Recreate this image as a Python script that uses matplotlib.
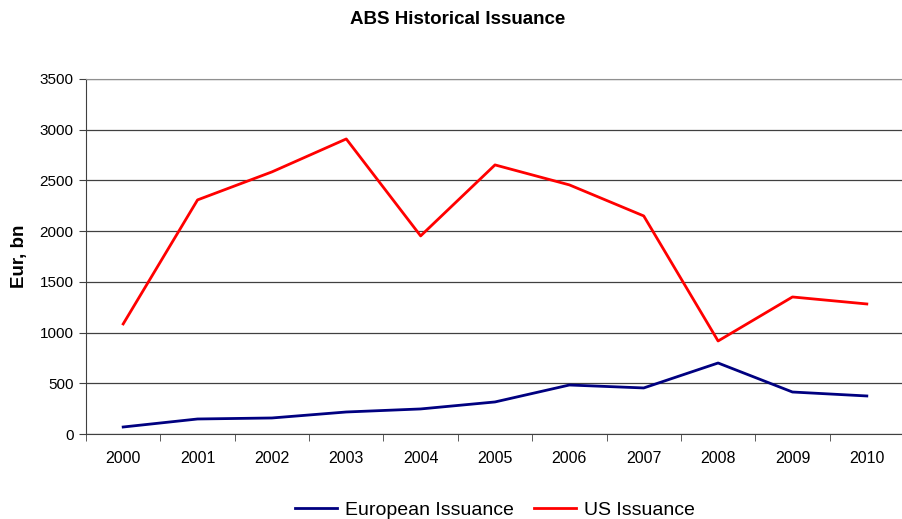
import matplotlib.pyplot as plt
from matplotlib.ticker import FixedLocator

plt.rcParams['font.family'] = ['Liberation Sans', 'DejaVu Sans']

years = ['2000', '2001', '2002', '2003', '2004', '2005', '2006', '2007', '2008', '2009', '2010']
european = [69, 148, 158, 217, 247, 316, 483, 454, 700, 414, 375]
us = [1085, 2308, 2584, 2909, 1953, 2653, 2456, 2150, 917, 1351, 1282]

fig = plt.figure(figsize=(9.03, 5.19), dpi=100)
ax = fig.add_axes([86 / 903, 85 / 519, 818 / 903, 355 / 519])

x = list(range(len(years)))
ax.plot(x, european, color='#000080', lw=2.0, label='European Issuance')
ax.plot(x, us, color='#ff0000', lw=2.0, label='US Issuance')

ax.set_xlim(-0.5, len(years) - 0.5)
ax.set_ylim(0, 3500)
ax.set_yticks(range(0, 3501, 500))
ax.yaxis.grid(True, color='#404040', lw=0.9)
ax.set_axisbelow(True)

ax.set_xticks(x)
ax.set_xticklabels(years)
ax.xaxis.set_minor_locator(FixedLocator([i - 0.5 for i in range(len(years) + 1)]))
ax.tick_params(axis='x', which='major', length=0, pad=12, labelsize=11.5)
ax.tick_params(axis='x', which='minor', length=5, direction='out', color='#404040')
ax.tick_params(axis='y', length=5, direction='out', color='#404040', labelsize=11, pad=4)

ax.spines['right'].set_visible(False)
ax.spines['top'].set_color('#909090')
ax.spines['left'].set_color('#404040')
ax.spines['bottom'].set_color('#404040')

ax.set_ylabel('Eur, bn', fontsize=13.5, fontweight='bold', labelpad=8)
fig.text(0.507, 0.963, 'ABS Historical Issuance', ha='center', va='center',
         fontsize=13.5, fontweight='bold')

fig.legend(loc='lower center', bbox_to_anchor=(0.548, 0.0), ncol=2, frameon=False,
           fontsize=14, handlelength=2.2, handletextpad=0.4, columnspacing=1.0,
           borderpad=0.0, borderaxespad=0.0)

fig.savefig('out.png', dpi=100)
